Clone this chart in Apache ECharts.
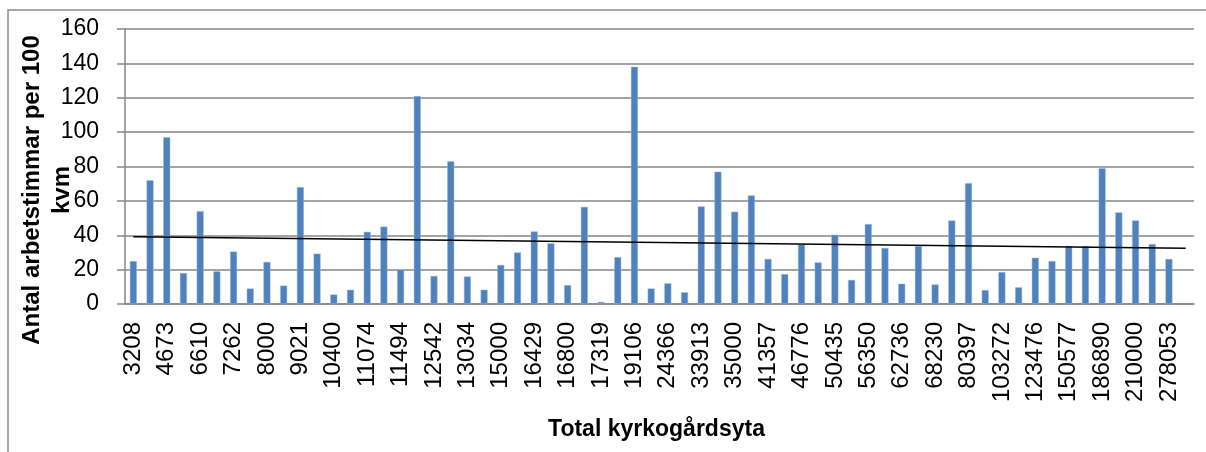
<!DOCTYPE html>
<html>
<head>
<meta charset="utf-8">
<script src="https://cdn.jsdelivr.net/npm/echarts@6/dist/echarts.min.js"></script>
<style>
  html, body { margin: 0; padding: 0; background: #fff; }
  #chart { width: 1206px; height: 452px; }
</style>
</head>
<body>
<div id="chart"></div>
<script>
// kategorier: bara varannan har etikett i originalet
const sizeLabels = ['3208', '4673', '6610', '7262', '8000', '9021', '10400', '11074',
  '11494', '12542', '13034', '15000', '16429', '16800', '17319', '19106',
  '24366', '33913', '35000', '41357', '46776', '50435', '56350', '62736',
  '68230', '80397', '103272', '123476', '150577', '186890', '210000', '278053']

const hours = [25, 72, 97, 18, 54, 19, 30.5, 9, 24.5, 10.7, 68, 29.3, 5.5, 8.3, 42, 45,
  20, 121, 16.3, 83, 16, 8.3, 22.7, 30, 42.2, 35.3, 11, 56.5, 1.2, 27.3, 138, 9,
  12, 6.8, 56.8, 77, 53.7, 63.2, 26.2, 17.4, 34.7, 24.2, 40.3, 14, 46.5, 32.6, 11.8, 33.7,
  11.4, 48.6, 70.3, 8.1, 18.6, 9.7, 26.9, 25, 33.7, 33.7, 79, 53.3, 48.6, 34.9, 26.2, null]

// trendlinjens ändpunkter (avläst)
const trendStart = 39.1
const trendEnd = 32.4

const categories = []
sizeLabels.forEach(item => {
  categories.push(item)
  categories.push('')
})

const trend = hours.map((v, i) => {
  if (i === 0) return trendStart
  if (i === hours.length - 1) return trendEnd
  return null
})

const font = '"Liberation Sans", Arial, sans-serif'
const chart = echarts.init(document.getElementById('chart'))
chart.setOption({
  animation: false,
  grid: {
    left: 125,
    right: 12,
    top: 29,
    bottom: 148
  },
  xAxis: {
    type: 'category',
    data: categories,
    boundaryGap: true,
    axisLine: { lineStyle: { color: '#868686', width: 1.5 } },
    axisTick: { interval: 0, length: 8, lineStyle: { color: '#868686', width: 1.5 } },
    axisLabel: {
      interval: 1,
      rotate: 90,
      margin: 18,
      color: '#000',
      fontSize: 24,
      fontFamily: font
    },
    name: 'Total kyrkogårdsyta',
    nameLocation: 'middle',
    nameGap: 114,
    nameTextStyle: {
      color: '#000',
      fontSize: 23,
      fontWeight: 'bold',
      fontFamily: font,
      padding: [0, 6, 0, 0]
    }
  },
  yAxis: {
    type: 'value',
    min: 0,
    max: 160,
    interval: 20,
    axisLine: { show: true, lineStyle: { color: '#868686', width: 1.5 } },
    axisTick: { show: true, length: 8, lineStyle: { color: '#868686', width: 1.5 } },
    splitLine: { lineStyle: { color: '#868686', width: 1.5 } },
    axisLabel: {
      margin: 26,
      color: '#000',
      fontSize: 23,
      fontFamily: font
    }
  },
  graphic: [
    {
      type: 'polyline',
      shape: { points: [[1206, 10], [8, 10], [8, 452]] },
      style: { stroke: '#8c8c8c', lineWidth: 1.5, fill: null }
    },
    {
      type: 'text',
      x: 47,
      y: 190,
      rotation: Math.PI / 2,
      style: {
        text: 'Antal arbetstimmar per 100\nkvm',
        align: 'center',
        verticalAlign: 'middle',
        lineHeight: 30,
        fill: '#000',
        font: 'bold 24px ' + font
      }
    }
  ],
  series: [
    {
      type: 'bar',
      data: hours,
      barWidth: 7,
      itemStyle: {
        color: '#4f81bd',
        borderColor: '#9db9dc',
        borderWidth: 0.5
      }
    },
    {
      type: 'line',
      data: trend,
      connectNulls: true,
      symbol: 'none',
      lineStyle: { color: '#000', width: 1.5 },
      z: 5
    }
  ]
})
</script>
</body>
</html>
